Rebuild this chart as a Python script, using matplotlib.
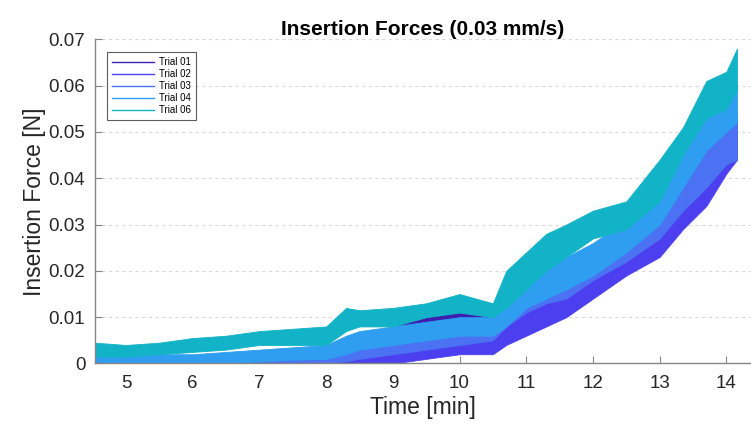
import numpy as np
import matplotlib.pyplot as plt

plt.rcParams['font.family'] = ['Liberation Sans', 'DejaVu Sans']

t = [4.53, 5.0, 5.5, 6.0, 6.5, 7.0, 7.5, 8.0, 8.3, 8.5, 9.0, 9.5, 10.0,
     10.5, 10.7, 11.0, 11.3, 11.6, 12.0, 12.5, 13.0, 13.35, 13.7, 14.0, 14.16]

labels = ['Trial 01', 'Trial 02', 'Trial 03', 'Trial 04', 'Trial 06']
colors = ['#3d1fb0', '#4b3ff0', '#4a72f2', '#2f9ef0', '#12b3c6']

# lower / upper edges of each noisy trace [N]
t01_lo = [0, 0, 0, 0, 0, 0, 0, 0, 0.001, 0.002, 0.004, 0.006, 0.007,
          0.007, 0.009, 0.011, 0.013, 0.015, 0.018, 0.021, 0.026, 0.031, 0.037, 0.045, 0.047]
t01_hi = [0.001, 0.001, 0.001, 0.001, 0.0012, 0.0015, 0.0018, 0.002, 0.004, 0.005, 0.008, 0.010, 0.011,
          0.011, 0.013, 0.016, 0.018, 0.020, 0.024, 0.027, 0.032, 0.038, 0.045, 0.052, 0.054]

t02_lo = [0, 0, 0, 0, 0, 0, 0, 0, 0, 0, 0, 0.001, 0.002,
          0.002, 0.004, 0.006, 0.008, 0.010, 0.014, 0.019, 0.023, 0.029, 0.034, 0.041, 0.044]
t02_hi = [0.001, 0.001, 0.001, 0.001, 0.001, 0.001, 0.001, 0.001, 0.0015, 0.002, 0.003, 0.005, 0.006,
          0.006, 0.009, 0.011, 0.014, 0.016, 0.020, 0.025, 0.030, 0.036, 0.042, 0.050, 0.053]

t03_lo = [0, 0, 0, 0, 0, 0, 0, 0, 0.0005, 0.001, 0.002, 0.003, 0.004,
          0.005, 0.008, 0.011, 0.013, 0.014, 0.018, 0.022, 0.027, 0.033, 0.038, 0.043, 0.044]
t03_hi = [0.0015, 0.0015, 0.0015, 0.0015, 0.0015, 0.0015, 0.0015, 0.0015, 0.003, 0.004, 0.006, 0.007, 0.009,
          0.010, 0.014, 0.017, 0.019, 0.020, 0.024, 0.028, 0.034, 0.040, 0.046, 0.050, 0.052]

t04_lo = [0, 0, 0, 0, 0, 0.0005, 0.0008, 0.001, 0.002, 0.003, 0.004, 0.005, 0.006,
          0.006, 0.008, 0.012, 0.014, 0.016, 0.019, 0.024, 0.030, 0.038, 0.046, 0.050, 0.052]
t04_hi = [0.002, 0.002, 0.002, 0.002, 0.0025, 0.003, 0.0035, 0.004, 0.006, 0.007, 0.008, 0.009, 0.010,
          0.010, 0.012, 0.019, 0.021, 0.023, 0.026, 0.031, 0.038, 0.045, 0.054, 0.058, 0.060]

t06_lo = [0.0015, 0.0015, 0.002, 0.0025, 0.003, 0.004, 0.004, 0.004, 0.007, 0.008, 0.008, 0.010, 0.011,
          0.010, 0.012, 0.016, 0.020, 0.023, 0.027, 0.029, 0.035, 0.045, 0.053, 0.055, 0.059]
t06_hi = [0.0045, 0.004, 0.0045, 0.0055, 0.006, 0.007, 0.0075, 0.008, 0.012, 0.0115, 0.012, 0.013, 0.015,
          0.013, 0.020, 0.024, 0.028, 0.030, 0.033, 0.035, 0.044, 0.051, 0.061, 0.063, 0.068]

bands = [(t01_lo, t01_hi), (t02_lo, t02_hi), (t03_lo, t03_hi),
         (t04_lo, t04_hi), (t06_lo, t06_hi)]

xticks = [5, 6, 7, 8, 9, 10, 11, 12, 13, 14]
yticks = [0, 0.01, 0.02, 0.03, 0.04, 0.05, 0.06, 0.07]
ytick_labels = ['0', '0.01', '0.02', '0.03', '0.04', '0.05', '0.06', '0.07']

fig = plt.figure(figsize=(7.51, 4.24), dpi=100)
ax = fig.add_axes([0.1265, 0.1427, 0.8735, 0.7646])

for (lo, hi), c, lab in zip(bands, colors, labels):
    ax.fill_between(t, lo, hi, color=c, linewidth=0.6, edgecolor=c)
    ax.plot([], [], color=c, lw=1.0, label=lab)

ax.set_xlim(4.535, 14.37)
ax.set_ylim(0, 0.07)
ax.set_xticks(xticks)
ax.set_yticks(yticks)
ax.set_yticklabels(ytick_labels)

# MATLAB look: only left/bottom axes, dashed horizontal grid
for s in ['top', 'right']:
    ax.spines[s].set_visible(False)
for s in ['left', 'bottom']:
    ax.spines[s].set_color('#858585')
    ax.spines[s].set_linewidth(1.0)
ax.tick_params(direction='in', length=5, color='#858585', labelsize=13.5,
               labelcolor='#262626')
ax.tick_params(axis='y', pad=7)
ax.tick_params(axis='x', pad=8)
ax.yaxis.grid(True, linestyle=(0, (3, 3)), color='#d9d9d9', linewidth=0.8)
ax.set_axisbelow(True)

ax.set_title('Insertion Forces (0.03 mm/s)', fontsize=15, fontweight='bold', pad=2)
ax.set_xlabel('Time [min]', fontsize=16.5, color='#262626', labelpad=3)
ax.set_ylabel('Insertion Force [N]', fontsize=16.5, color='#262626', labelpad=2)

leg = ax.legend(loc='upper left', bbox_to_anchor=(0.018, 0.961), borderaxespad=0,
                fontsize=7, frameon=True, fancybox=False, handlelength=4.3,
                labelspacing=0.2, borderpad=0.55, handletextpad=0.5)
leg.get_frame().set_edgecolor('#333333')
leg.get_frame().set_linewidth(0.8)

fig.savefig('out.png', dpi=100)
